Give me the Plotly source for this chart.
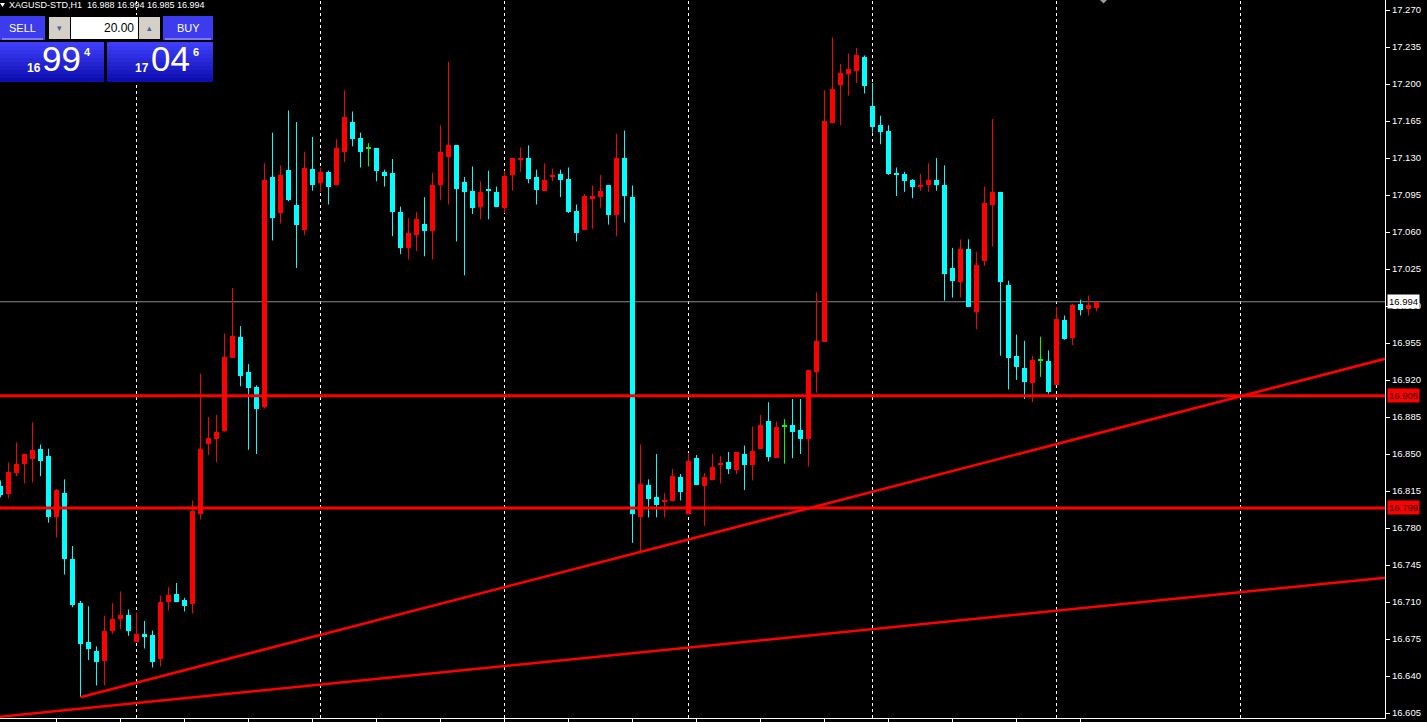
import plotly.graph_objects as go

# ---------------- data (H1 bars, index 0 = leftmost visible bar) ----------------
bars = list(range(138))

opens = [16.820, 16.812, 16.832, 16.841, 16.845, 16.855, 16.848, 16.790, 16.813, 16.751,
         16.709, 16.672, 16.664, 16.654, 16.683, 16.694, 16.698, 16.672, 16.680, 16.679,
         16.656, 16.710, 16.718, 16.712, 16.708, 16.793, 16.859, 16.864, 16.872, 16.941,
         16.961, 16.928, 16.913, 16.894, 17.112, 17.078, 17.119, 17.086, 17.062, 17.120,
         17.106, 17.117, 17.104, 17.136, 17.164, 17.149, 17.139, 17.139, 17.117, 17.116,
         17.079, 17.045, 17.057, 17.068, 17.061, 17.104, 17.131, 17.142, 17.107, 17.099,
         17.084, 17.100, 17.098, 17.083, 17.114, 17.128, 17.130, 17.112, 17.099, 17.112,
         17.115, 17.110, 17.080, 17.062, 17.091, 17.093, 17.104, 17.076, 17.130, 17.093,
         16.790, 16.821, 16.809, 16.805, 16.806, 16.828, 16.793, 16.846, 16.820, 16.825,
         16.840, 16.842, 16.835, 16.850, 16.840, 16.855, 16.881, 16.846, 16.876, 16.877,
         16.873, 16.864, 16.928, 16.956, 17.163, 17.199, 17.209, 17.212, 17.226, 17.179,
         17.161, 17.156, 17.116, 17.115, 17.109, 17.103, 17.104, 17.109, 17.104, 17.026,
         17.013, 17.044, 16.984, 17.033, 17.086, 17.098, 17.010, 16.943, 16.931, 16.917,
         16.938, 16.938, 16.915, 16.977, 16.960, 16.992, 16.987, 16.988]

highs = [16.825, 16.842, 16.861, 16.850, 16.880, 16.859, 16.855, 16.817, 16.826, 16.763,
         16.711, 16.706, 16.668, 16.697, 16.709, 16.720, 16.703, 16.700, 16.692, 16.683,
         16.716, 16.724, 16.728, 16.714, 16.806, 16.926, 16.885, 16.887, 16.964, 17.007,
         16.971, 16.935, 16.915, 17.125, 17.154, 17.123, 17.175, 17.164, 17.136, 17.150,
         17.121, 17.118, 17.148, 17.194, 17.174, 17.154, 17.144, 17.139, 17.119, 17.129,
         17.084, 17.073, 17.079, 17.093, 17.116, 17.161, 17.221, 17.142, 17.112, 17.122,
         17.108, 17.118, 17.103, 17.118, 17.130, 17.140, 17.142, 17.119, 17.125, 17.120,
         17.119, 17.121, 17.086, 17.096, 17.104, 17.114, 17.104, 17.153, 17.156, 17.104,
         16.859, 16.826, 16.850, 16.813, 16.836, 16.831, 16.851, 16.849, 16.832, 16.850,
         16.848, 16.852, 16.852, 16.858, 16.876, 16.887, 16.899, 16.881, 16.883, 16.902,
         16.902, 16.929, 17.003, 17.194, 17.244, 17.219, 17.229, 17.234, 17.227, 17.201,
         17.170, 17.161, 17.121, 17.117, 17.110, 17.115, 17.125, 17.130, 17.123, 17.045,
         17.053, 17.053, 17.041, 17.103, 17.167, 17.098, 17.014, 16.963, 16.957, 16.943,
         16.961, 16.948, 16.989, 16.981, 16.992, 16.996, 17.000, 16.994]

lows = [16.809, 16.808, 16.829, 16.822, 16.823, 16.829, 16.785, 16.771, 16.736, 16.705,
        16.620, 16.655, 16.631, 16.631, 16.680, 16.684, 16.678, 16.672, 16.666, 16.648,
        16.649, 16.702, 16.710, 16.701, 16.699, 16.788, 16.849, 16.842, 16.871, 16.941,
        16.914, 16.854, 16.850, 16.893, 17.052, 17.068, 17.089, 17.026, 17.057, 17.099,
        17.098, 17.086, 17.104, 17.126, 17.141, 17.121, 17.122, 17.108, 17.103, 17.056,
        17.039, 17.034, 17.042, 17.037, 17.034, 17.090, 17.086, 17.051, 17.019, 17.077,
        17.072, 17.072, 17.084, 17.078, 17.099, 17.117, 17.106, 17.086, 17.099, 17.108,
        17.093, 17.078, 17.051, 17.062, 17.063, 17.083, 17.067, 17.056, 17.069, 16.766,
        16.758, 16.790, 16.790, 16.790, 16.806, 16.806, 16.793, 16.821, 16.782, 16.825,
        16.822, 16.831, 16.831, 16.816, 16.825, 16.855, 16.843, 16.846, 16.841, 16.846,
        16.850, 16.838, 16.908, 16.956, 17.163, 17.161, 17.189, 17.201, 17.191, 17.154,
        17.143, 17.114, 17.094, 17.098, 17.092, 17.099, 17.098, 17.099, 16.995, 16.998,
        16.998, 16.989, 16.968, 17.028, 17.046, 16.943, 16.911, 16.920, 16.902, 16.899,
        16.923, 16.907, 16.915, 16.958, 16.953, 16.981, 16.981, 16.985]

closes = [16.811, 16.833, 16.841, 16.850, 16.854, 16.843, 16.790, 16.816, 16.751, 16.707,
          16.670, 16.666, 16.653, 16.683, 16.694, 16.698, 16.683, 16.680, 16.677, 16.653,
          16.710, 16.717, 16.710, 16.706, 16.796, 16.855, 16.865, 16.871, 16.942, 16.962,
          16.924, 16.912, 16.893, 17.109, 17.073, 17.114, 17.090, 17.067, 17.121, 17.104,
          17.117, 17.103, 17.139, 17.169, 17.148, 17.136, 17.139, 17.118, 17.113, 17.079,
          17.045, 17.059, 17.072, 17.061, 17.104, 17.136, 17.142, 17.101, 17.098, 17.083,
          17.098, 17.099, 17.084, 17.113, 17.130, 17.130, 17.110, 17.100, 17.109, 17.114,
          17.109, 17.079, 17.059, 17.094, 17.094, 17.099, 17.076, 17.130, 17.094, 16.793,
          16.822, 16.807, 16.802, 16.806, 16.829, 16.814, 16.843, 16.821, 16.828, 16.838,
          16.841, 16.836, 16.852, 16.840, 16.853, 16.877, 16.847, 16.876, 16.876, 16.871,
          16.864, 16.929, 16.957, 17.165, 17.195, 17.210, 17.214, 17.227, 17.198, 17.159,
          17.155, 17.115, 17.114, 17.108, 17.103, 17.104, 17.109, 17.104, 17.020, 17.014,
          17.044, 16.989, 17.029, 17.087, 17.098, 17.013, 16.941, 16.932, 16.918, 16.939,
          16.938, 16.909, 16.978, 16.959, 16.991, 16.986, 16.991, 16.994]

level_prices = [16.905, 16.799]
level_labels = ["16.905", "16.799"]
bid_price = 16.994
bid_label = "16.994"
trend1_x = [10, 173.0625]
trend1_y = [16.620, 16.940]
trend2_x = [-0.0625, 173.0625]
trend2_y = [16.6015, 16.733]
separator_bars = [17, 40, 63, 86, 109, 132, 155]
time_tick_bars = [7, 15, 23, 31, 39, 47, 55, 63, 71, 79, 87, 95, 103, 111, 119, 127, 135]
ytick_vals = [17.270, 17.235, 17.200, 17.165, 17.130, 17.095, 17.060, 17.025, 16.990, 16.955,
              16.920, 16.885, 16.850, 16.815, 16.780, 16.745, 16.710, 16.675, 16.640, 16.605]
ytick_text = ["%.3f" % v for v in ytick_vals]
header_text = "XAGUSD-STD,H1&nbsp;&nbsp;16.988 16.994 16.985 16.994"

# ---------------- styling ----------------
RED = "#ff0000"
CYAN = "#00ffff"
GREEN = "#00ff00"
W, H = 1427, 722
ML, MR, MT, MB = 0, 42, 0, 4
PW, PH = W - ML - MR, H - MT - MB
XR = [-0.0625, 173.0625]
YR = [16.60027, 17.27946]


def px(x):
    return x / PW


def py(y):
    return 1 - y / PH


def col(o, c):
    if c > o:
        return RED
    if c < o:
        return CYAN
    return GREEN


colors = [col(o, c) for o, c in zip(opens, closes)]

fig = go.Figure()

# wicks
for cc in (RED, CYAN, GREEN):
    wx, wy = [], []
    for b, h, l, c in zip(bars, highs, lows, colors):
        if c == cc:
            wx += [b, b, None]
            wy += [l, h, None]
    fig.add_trace(go.Scatter(x=wx, y=wy, mode="lines", line=dict(color=cc, width=1),
                             hoverinfo="skip", showlegend=False))

# bodies
bases = [min(o, c) for o, c in zip(opens, closes)]
heights = [max(abs(c - o), 0.001) for o, c in zip(opens, closes)]
fig.add_trace(go.Bar(x=bars, y=heights, base=bases, width=0.625,
                     marker=dict(color=colors, line=dict(width=0)),
                     showlegend=False, hoverinfo="skip"))

# trend lines
for tx, ty in ((trend1_x, trend1_y), (trend2_x, trend2_y)):
    fig.add_trace(go.Scatter(x=tx, y=ty, mode="lines", line=dict(color=RED, width=2.6),
                             hoverinfo="skip", showlegend=False, cliponaxis=True))

shapes = []
# day separators
for s in separator_bars:
    shapes.append(dict(type="line", xref="x", yref="paper", x0=s, x1=s, y0=0, y1=1,
                       line=dict(color="white", width=1, dash="3px,3px"), layer="below"))
# bid line
shapes.append(dict(type="line", xref="paper", yref="y", x0=0, x1=1, y0=bid_price, y1=bid_price,
                   line=dict(color="#8a8a8a", width=1), layer="below"))
# horizontal levels
for lv in level_prices:
    shapes.append(dict(type="line", xref="paper", yref="y", x0=0, x1=1, y0=lv, y1=lv,
                       line=dict(color=RED, width=3), layer="above"))


def rect(x0, y0, x1, y1, color):
    shapes.append(dict(type="rect", xref="paper", yref="paper", x0=px(x0), x1=px(x1),
                       y0=py(y1), y1=py(y0), fillcolor=color, line=dict(width=0), layer="above"))


# one-click trading panel
rect(0, 15, 214, 82, "#000000")
rect(0, 16, 45, 40, "#3c3cee")
rect(2, 38, 43, 40, "#7a7aff")
rect(163, 16, 213, 40, "#3c3cee")
rect(165, 38, 211, 40, "#7a7aff")
rect(47, 15, 162, 41, "#000000")
rect(49, 17, 70, 39, "#d4d0c8")
rect(71, 17, 138, 39, "#ffffff")
rect(139, 17, 160, 39, "#d4d0c8")
n = 10
top_c, bot_c = (62, 62, 250), (14, 14, 178)
for i in range(n):
    t = i / (n - 1)
    c = "rgb(%d,%d,%d)" % tuple(int(round(a + (b - a) * t)) for a, b in zip(top_c, bot_c))
    y0 = 42 + i * 40 / n
    y1 = 42 + (i + 1) * 40 / n
    rect(0, y0, 104, y1, c)
    rect(107, y0, 213, y1, c)

# chart shift marker
shapes.append(dict(type="path", xref="paper", yref="paper",
                   path="M %f,%f L %f,%f L %f,%f Z" % (px(1100), py(0), px(1107), py(0), px(1103.5), py(3.5)),
                   fillcolor="#9a9a9a", line=dict(width=0), layer="above"))
# header small triangle
shapes.append(dict(type="path", xref="paper", yref="paper",
                   path="M %f,%f L %f,%f L %f,%f Z" % (px(0), py(3), px(5), py(3), px(2.5), py(7)),
                   fillcolor="#ffffff", line=dict(width=0), layer="above"))

annotations = []


def txt(x, y, s, size, color="white", xanchor="left", bold=False, family="Liberation Sans"):
    if bold:
        s = "<b>%s</b>" % s
    annotations.append(dict(xref="paper", yref="paper", x=px(x), y=py(y), text=s,
                            showarrow=False, xanchor=xanchor, yanchor="middle",
                            font=dict(size=size, color=color, family=family)))


txt(7, 5, header_text, 9)
txt(22, 28, "SELL", 11, xanchor="center")
txt(188, 28, "BUY", 11, xanchor="center")
txt(136, 28, "20.00", 12, color="black", xanchor="right")
txt(59.5, 28, "▾", 9, color="#50609a", xanchor="center")
txt(149.5, 28, "▴", 9, color="#50609a", xanchor="center")
big_font = "Liberation Sans"
txt(25, 68, "16", 12, bold=True)
txt(40, 59, "99", 35, family=big_font)
txt(82, 52, "4", 11, bold=True)
txt(133, 68, "17", 12, bold=True)
txt(149, 59, "04", 35, family=big_font)
txt(191, 52, "6", 11, bold=True)

# price labels on the right axis
for lv, lab in zip(level_prices, level_labels):
    annotations.append(dict(xref="paper", yref="y", x=1, y=lv, xanchor="left", xshift=2,
                            yanchor="middle", text=lab, showarrow=False, bgcolor=RED,
                            borderpad=1, font=dict(size=9.5, color="#200000", family="Liberation Sans")))
annotations.append(dict(xref="paper", yref="y", x=1, y=bid_price, xanchor="left", xshift=2,
                        yanchor="middle", text=bid_label, showarrow=False, bgcolor="white",
                        borderpad=1, font=dict(size=9.5, color="black", family="Liberation Sans")))

fig.update_layout(
    width=W, height=H,
    margin=dict(l=ML, r=MR, t=MT, b=MB, pad=0),
    paper_bgcolor="black", plot_bgcolor="black",
    barmode="overlay", bargap=0, showlegend=False,
    shapes=shapes, annotations=annotations,
    xaxis=dict(range=XR, showgrid=False, zeroline=False, showline=True, linecolor="white",
               linewidth=1, ticks="outside", ticklen=4, tickcolor="white", tickwidth=1,
               tickvals=time_tick_bars, showticklabels=False, fixedrange=True),
    yaxis=dict(range=YR, side="right", showgrid=False, zeroline=False, showline=True,
               linecolor="white", linewidth=1, ticks="outside", ticklen=4, tickcolor="white",
               tickwidth=1, tickvals=ytick_vals, ticktext=ytick_text,
               tickfont=dict(size=9.5, color="white", family="Liberation Sans"), fixedrange=True),
)

fig.write_html(
    "out.html",
    config={"displayModeBar": False},
    post_script="document.body.style.margin='0';document.body.style.padding='0';"
                "document.body.style.background='black';document.body.style.overflow='hidden';",
)
